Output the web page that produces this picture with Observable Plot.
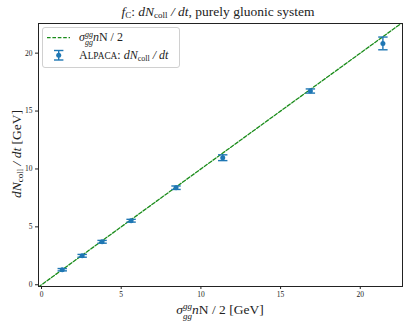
<!DOCTYPE html>
<html>
<head>
<meta charset="utf-8">
<script src="https://cdn.jsdelivr.net/npm/d3@7"></script>
<script src="https://cdn.jsdelivr.net/npm/@observablehq/plot@0.6"></script>
<style>
  html, body { margin: 0; padding: 0; background: white; }
</style>
</head>
<body>
<div id="chart"></div>
<script>
// ---- data ----
const xVals = [1.30, 2.55, 3.80, 5.62, 8.44, 11.37, 16.87, 21.42];
const yVals = [1.30, 2.50, 3.71, 5.53, 8.38, 10.97, 16.73, 20.84];
const errs  = [0.10, 0.12, 0.12, 0.12, 0.15, 0.25, 0.18, 0.55];
const refX  = [-0.2, 22.7];           // reference line y = x
const xTicks = [0, 5, 10, 15, 20];
const yTicks = [0, 5, 10, 15, 20];

const points = xVals.map((x, i) => ({x, y: yVals[i], e: errs[i]}));
const refLine = refX.map(x => ({x, y: x}));

const blue = "#1f77b4";
const green = "#1a8c1a";
const font = "'Liberation Serif', 'DejaVu Serif', serif";

const capSymbol = {draw(ctx) { ctx.moveTo(-4.7, 0); ctx.lineTo(4.7, 0); }};

const chart = Plot.plot({
  width: 411,
  height: 328,
  marginLeft: 38,
  marginRight: 9,
  marginTop: 23,
  marginBottom: 42,
  style: {fontFamily: font, fontSize: "7.5px", background: "white", color: "#222"},
  x: {domain: [-0.19, 22.65], label: null},
  y: {domain: [-0.15, 22.56], label: null},
  marks: [
    Plot.line(refLine, {x: "x", y: "y", stroke: green, strokeWidth: 1.3, strokeDasharray: "3.6,1.8", clip: true}),
    Plot.ruleX(points, {x: "x", y1: d => d.y - d.e, y2: d => d.y + d.e, stroke: blue, strokeWidth: 1.4}),
    Plot.dot(points, {x: "x", y: d => d.y - d.e, symbol: capSymbol, stroke: blue, strokeWidth: 1.4, fill: "none"}),
    Plot.dot(points, {x: "x", y: d => d.y + d.e, symbol: capSymbol, stroke: blue, strokeWidth: 1.4, fill: "none"}),
    Plot.dot(points, {x: "x", y: "y", r: 2.5, fill: blue, stroke: null}),
    Plot.axisX({ticks: xTicks, tickSize: 3, tickPadding: 2, fontSize: 7.5, label: null}),
    Plot.axisY({ticks: yTicks, tickSize: 3, tickPadding: 3, fontSize: 7.5, label: null}),
    Plot.frame({stroke: "#222", strokeWidth: 1})
  ]
});

document.getElementById("chart").appendChild(chart);

const svg = d3.select(chart);

function txt(x, y, anchor, size) {
  return svg.append("text")
    .attr("x", x).attr("y", y)
    .attr("text-anchor", anchor)
    .style("font-family", font)
    .attr("font-size", size).attr("fill", "#222");
}

// Title
txt(218, 16, "middle", 13.5)
  .html('<tspan font-style="italic">f</tspan><tspan font-size="9" dy="2">C</tspan><tspan dy="-2">: </tspan><tspan font-style="italic">dN</tspan><tspan font-size="9" dy="2">coll</tspan><tspan dy="-2" font-style="italic"> / dt</tspan>, purely gluonic system');

// X label
txt(220, 314, "middle", 13.5)
  .html('<tspan font-style="italic">σ</tspan><tspan font-size="9" dy="-5.5" font-style="italic">gg</tspan><tspan font-size="9" dx="-9" dy="10" font-style="italic">gg</tspan><tspan dy="-4.5" font-style="italic">n</tspan>N / 2 [GeV]');

// Y label
svg.append("text")
  .attr("transform", "translate(21,154) rotate(-90)")
  .attr("text-anchor", "middle")
  .style("font-family", font)
  .attr("font-size", 13.5).attr("fill", "#222")
  .html('<tspan font-style="italic">dN</tspan><tspan font-size="9" dy="2">coll</tspan><tspan dy="-2" font-style="italic"> / dt</tspan> [GeV]');

// Legend
svg.append("rect")
  .attr("x", 42.5).attr("y", 27.5).attr("width", 137).attr("height", 40).attr("rx", 2.5)
  .attr("fill", "white").attr("fill-opacity", 0.85).attr("stroke", "#d0d0d0").attr("stroke-width", 1);
svg.append("line")
  .attr("x1", 47).attr("x2", 70).attr("y1", 37.7).attr("y2", 37.7)
  .attr("stroke", green).attr("stroke-width", 1.3).attr("stroke-dasharray", "3.6,1.8");
txt(79, 41, "start", 12)
  .html('<tspan font-style="italic">σ</tspan><tspan font-size="8" dy="-4.5" font-style="italic">gg</tspan><tspan font-size="8" dx="-8" dy="8.5" font-style="italic">gg</tspan><tspan dy="-4" font-style="italic">n</tspan>N / 2');
// legend errorbar icon
svg.append("line").attr("x1", 58.7).attr("x2", 58.7).attr("y1", 50.5).attr("y2", 60)
  .attr("stroke", blue).attr("stroke-width", 1.4);
svg.append("line").attr("x1", 54).attr("x2", 63.4).attr("y1", 50.5).attr("y2", 50.5)
  .attr("stroke", blue).attr("stroke-width", 1.4);
svg.append("line").attr("x1", 54).attr("x2", 63.4).attr("y1", 60).attr("y2", 60)
  .attr("stroke", blue).attr("stroke-width", 1.4);
svg.append("circle").attr("cx", 58.7).attr("cy", 55.3).attr("r", 2.5).attr("fill", blue);
txt(79, 59, "start", 12)
  .html('A<tspan font-size="9.3">LPACA</tspan>: <tspan font-style="italic">dN</tspan><tspan font-size="8" dy="2">coll</tspan><tspan dy="-2" font-style="italic"> / dt</tspan>');
</script>
</body>
</html>
